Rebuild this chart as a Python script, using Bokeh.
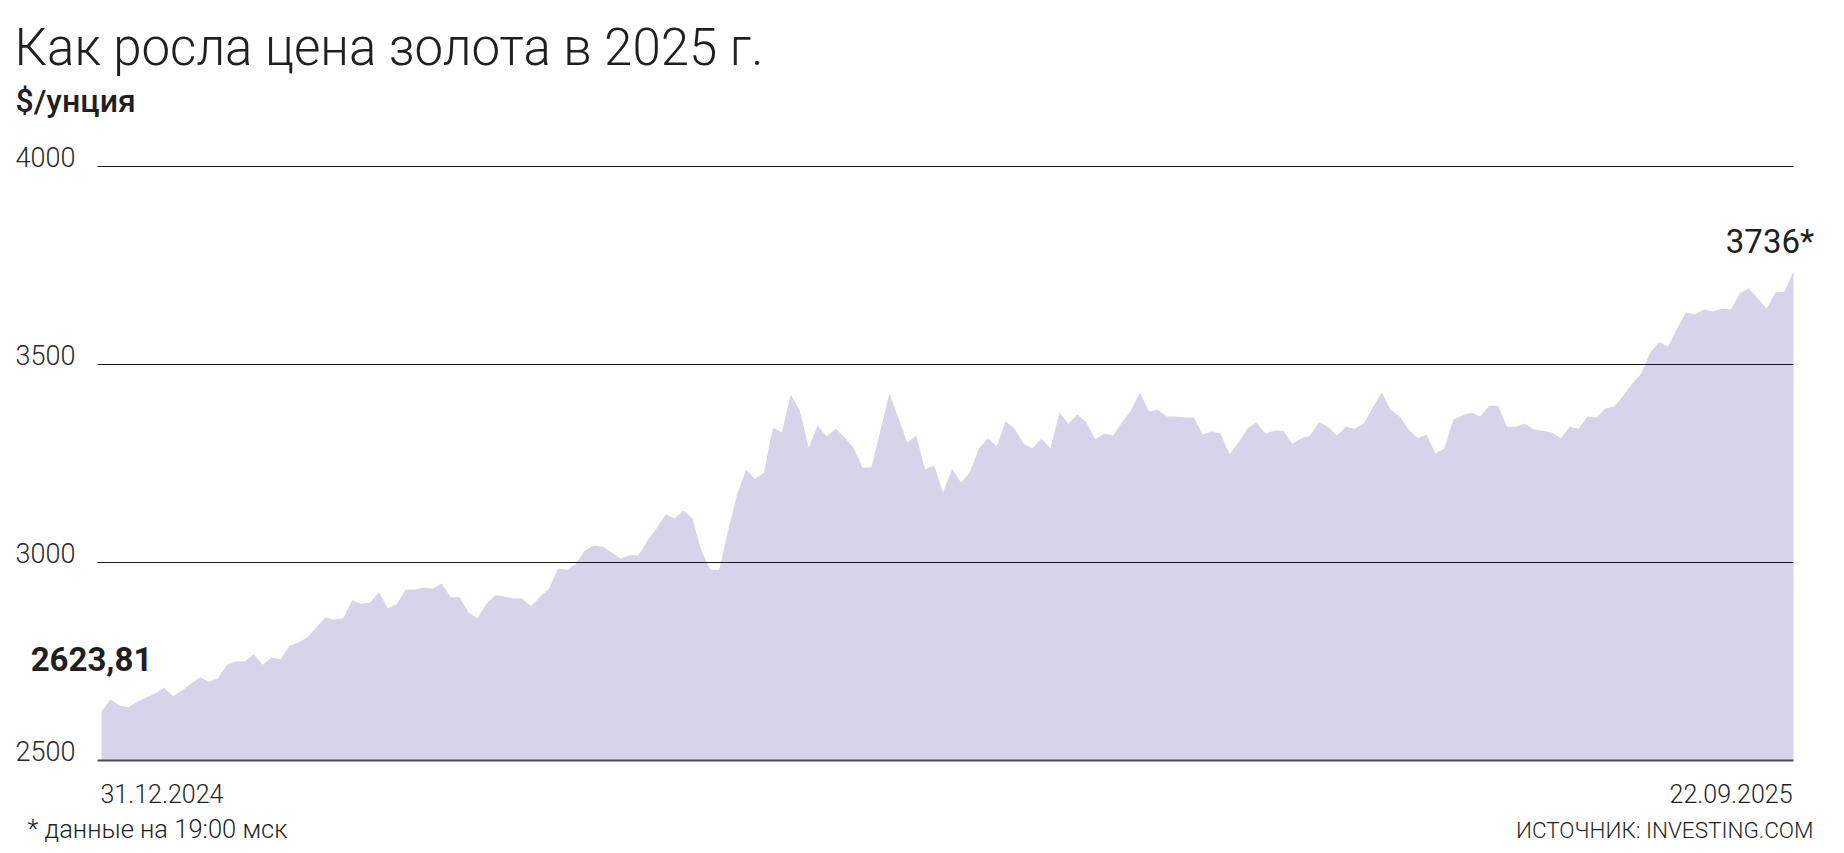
from bokeh.plotting import figure
from bokeh.models import Range1d
from bokeh.core.properties import value
from bokeh.embed import file_html
from bokeh.resources import INLINE

# ---------------- data ----------------
title_text = "Как росла цена золота в 2025 г."
unit_text = "$/унция"
note_text = "* данные на 19:00 мск"
source_text = "ИСТОЧНИК: INVESTING.COM"
y_ticks = [2500, 3000, 3500, 4000]
y_tick_labels = ["2500", "3000", "3500", "4000"]
date_labels = ["31.12.2024", "22.09.2025"]
first_label = "2623,81"
last_label = "3736*"

prices = [
    2623.81, 2654, 2639, 2634, 2649, 2659, 2669, 2684, 2662, 2677,
    2694, 2710, 2699, 2707, 2742, 2750, 2750, 2768, 2742, 2760,
    2755, 2790, 2798, 2811, 2836, 2861, 2856, 2859, 2904, 2896,
    2899, 2924, 2884, 2896, 2932, 2932, 2937, 2934, 2947, 2912,
    2912, 2874, 2859, 2896, 2917, 2914, 2909, 2909, 2889, 2914,
    2934, 2985, 2982, 2997, 3030, 3043, 3040,
    3025, 3010, 3018, 3018, 3056, 3086, 3121, 3111, 3131, 3111,
    3030, 2982, 2982, 3081, 3172, 3235, 3210, 3227, 3341, 3328,
    3424, 3384, 3290, 3346, 3318, 3338, 3316, 3290, 3240, 3240,
    3333, 3427, 3366, 3303, 3321, 3235, 3245, 3177, 3237, 3202,
    3227, 3288, 3313, 3293, 3356, 3338, 3300, 3288, 3313, 3288,
    3379, 3351, 3374, 3354, 3311, 3326, 3321,
    3354, 3384, 3429, 3381, 3386, 3369, 3369, 3366, 3366, 3323,
    3331, 3326, 3273, 3303, 3338, 3354, 3326, 3333, 3333, 3300,
    3313, 3321, 3354, 3343, 3321, 3343, 3338, 3351, 3391, 3429,
    3386, 3369, 3336, 3313, 3323, 3275, 3288, 3361, 3371, 3379,
    3369, 3396, 3396, 3343, 3343, 3351, 3336, 3333, 3328, 3313,
    3343, 3338, 3369, 3366, 3389, 3394,
    3422, 3452, 3477, 3530, 3556, 3545, 3591, 3631, 3626, 3639,
    3634, 3641, 3639, 3679, 3692, 3667, 3641, 3682, 3684, 3736,
]

# ---------------- layout ----------------
N = len(prices)
idx = list(range(N))

W, H = 1828, 845
AREA_L, AREA_R = 101, 1793     # pixel columns of first / last point
GRID_L = 97                    # pixel where grid lines start
Y_TOP_PX, Y_BOT_PX = 166, 760  # pixel rows of top / bottom tick

step = (AREA_R - AREA_L) / (N - 1)
x0 = -AREA_L / step
x1 = (W - AREA_L) / step
k = (Y_BOT_PX - Y_TOP_PX) / (y_ticks[-1] - y_ticks[0])
y1 = y_ticks[-1] + Y_TOP_PX / k
y0 = y1 - H / k

LIGHT = "'Roboto Light', Roboto, sans-serif"
MEDIUM = "'Roboto Medium', Roboto, sans-serif"
REGULAR = "Roboto, sans-serif"
INK = "#1f1f1f"

p = figure(width=W, height=H, x_range=Range1d(x0, x1), y_range=Range1d(y0, y1),
           output_backend="svg", toolbar_location=None,
           x_axis_location=None, y_axis_location=None,
           min_border=0, outline_line_color=None, title=None)
p.xgrid.visible = False
p.ygrid.visible = False
p.background_fill_color = "white"
p.border_fill_color = "white"

# area
p.varea(x=idx, y1=[y_ticks[0]] * N, y2=prices, fill_color="#d5d4ea")

# grid lines
gx0 = -(AREA_L - GRID_L) / step
p.segment(x0=[gx0] * 3, y0=y_ticks[1:], x1=[N - 1] * 3, y1=y_ticks[1:],
          line_color="#1a1a1a", line_width=1.2)
p.segment(x0=[gx0], y0=y_ticks[:1], x1=[N - 1], y1=y_ticks[:1],
          line_color="#4d4d4d", line_width=2)

BASE_SHIFT = 0.35  # em correction so the given offset lands on the baseline


def add_text(x, y, txt, size, font, align="left", xo=0, yo=0, style="normal", color=INK):
    p.text(x=[x], y=[y], text=[txt], text_font=value(font), text_font_size=f"{size}px",
           text_font_style=style, text_align=align, text_baseline="alphabetic",
           x_offset=xo, y_offset=yo - BASE_SHIFT * size, text_color=color)


# titles
add_text(x0, y1, title_text, 51, LIGHT, xo=14, yo=65)
add_text(x0, y1, unit_text, 32, MEDIUM, xo=15, yo=112)

# y tick labels
for t, lab in zip(y_ticks, y_tick_labels):
    add_text(x0, t, lab, 27, LIGHT, xo=15, yo=0, color="#2a2a2a")

# end-point values
add_text(0, prices[0], first_label, 33, REGULAR, align="center", xo=-10, yo=-41, style="bold")
add_text(N - 1, prices[-1], last_label, 33, REGULAR, align="center", xo=-23.5, yo=-17.5)

# date labels
add_text(0, y_ticks[0], date_labels[0], 25, LIGHT, xo=-1, yo=42)
add_text(N - 1, y_ticks[0], date_labels[1], 25, LIGHT, align="right", xo=-1, yo=42)

# footer
add_text(x0, y0, note_text, 25.5, LIGHT, xo=27, yo=-8)
add_text(x1, y0, source_text, 22.5, LIGHT, align="right", xo=-15, yo=-8)

open("out.html", "w").write(file_html(p, INLINE))
